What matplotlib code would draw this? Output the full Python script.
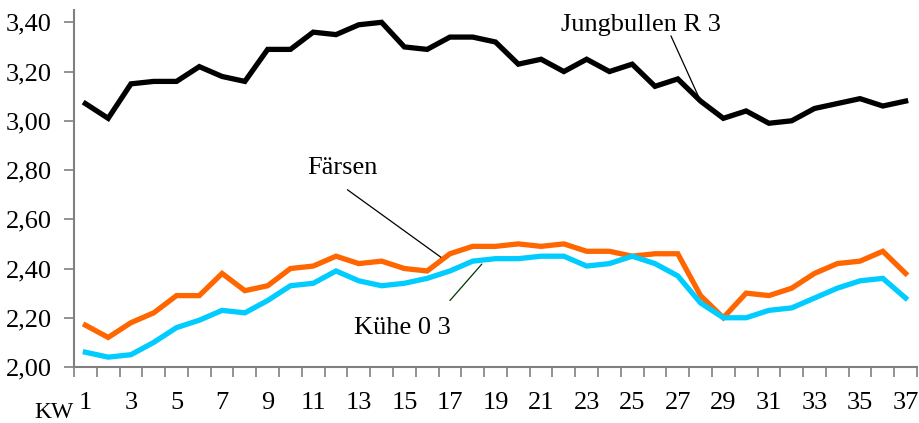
import matplotlib

matplotlib.use("Agg")
import matplotlib.pyplot as plt
import numpy as np

# Kalenderwochen 1..37
weeks = list(range(1, 38))
jungbullen_r3 = [3.07, 3.01, 3.15, 3.16, 3.16, 3.22, 3.18, 3.16, 3.29, 3.29,
                 3.36, 3.35, 3.39, 3.40, 3.30, 3.29, 3.34, 3.34, 3.32, 3.23,
                 3.25, 3.20, 3.25, 3.20, 3.23, 3.14, 3.17, 3.08, 3.01, 3.04,
                 2.99, 3.00, 3.05, 3.07, 3.09, 3.06, 3.08]
faersen = [2.17, 2.12, 2.18, 2.22, 2.29, 2.29, 2.38, 2.31, 2.33, 2.40,
           2.41, 2.45, 2.42, 2.43, 2.40, 2.39, 2.46, 2.49, 2.49, 2.50,
           2.49, 2.50, 2.47, 2.47, 2.45, 2.46, 2.46, 2.29, 2.20, 2.30,
           2.29, 2.32, 2.38, 2.42, 2.43, 2.47, 2.38]
kuehe_o3 = [2.06, 2.04, 2.05, 2.10, 2.16, 2.19, 2.23, 2.22, 2.27, 2.33,
            2.34, 2.39, 2.35, 2.33, 2.34, 2.36, 2.39, 2.43, 2.44, 2.44,
            2.45, 2.45, 2.41, 2.42, 2.45, 2.42, 2.37, 2.26, 2.20, 2.20,
            2.23, 2.24, 2.28, 2.32, 2.35, 2.36, 2.28]
y_ticks = [2.00, 2.20, 2.40, 2.60, 2.80, 3.00, 3.20, 3.40]

plt.rcParams["font.family"] = ["Liberation Serif", "DejaVu Serif"]
AXIS_GREY = "#808080"
FS = 19

fig = plt.figure(figsize=(9.19, 4.23), dpi=100)
ax = fig.add_axes([74 / 919, 56 / 423, 843 / 919, 357 / 423])

ax.plot(weeks, jungbullen_r3, color="black", linewidth=3.8, solid_joinstyle="miter")
ax.plot(weeks, faersen, color="#ff6600", linewidth=3.8, solid_joinstyle="miter")
ax.plot(weeks, kuehe_o3, color="#00ccff", linewidth=3.8, solid_joinstyle="miter")

ax.set_xlim(0.5, 37.4)
ax.set_ylim(2.0, 3.45)
ax.set_yticks(y_ticks)
ax.set_yticklabels([f"{v:.2f}".replace(".", ",") for v in y_ticks], fontsize=FS)
ax.set_xticks(weeks)
ax.set_xticklabels([str(w) if w % 2 else "" for w in weeks], fontsize=FS)
ax.set_xticks(np.arange(0.5, 37.6, 1.0), minor=True)
ax.tick_params(axis="x", which="major", length=0, pad=18)
ax.tick_params(axis="x", which="minor", length=7, width=1.2, color=AXIS_GREY, direction="out")
ax.tick_params(axis="y", length=7, width=1.2, color=AXIS_GREY, pad=9)
for spine in ("top", "right"):
    ax.spines[spine].set_visible(False)
for spine in ("left", "bottom"):
    ax.spines[spine].set_color(AXIS_GREY)
    ax.spines[spine].set_linewidth(1.5)

# Beschriftungen mit Hinweislinien
ax.text(25.4, 3.39, "Jungbullen R 3", fontsize=FS, ha="center", va="center")
ax.annotate("", xy=(28.0, 3.08), xytext=(26.7, 3.345),
            arrowprops=dict(arrowstyle="-", color="black", linewidth=0.9, shrinkA=0, shrinkB=0))
ax.text(12.3, 2.81, "Färsen", fontsize=FS, ha="center", va="center")
ax.annotate("", xy=(16.6, 2.446), xytext=(12.5, 2.72),
            arrowprops=dict(arrowstyle="-", color="black", linewidth=0.9, shrinkA=0, shrinkB=0))
ax.text(14.9, 2.158, "Kühe 0 3", fontsize=FS, ha="center", va="center")
ax.annotate("", xy=(18.4, 2.418), xytext=(17.0, 2.27),
            arrowprops=dict(arrowstyle="-", color="#003300", linewidth=0.9, shrinkA=0, shrinkB=0))
fig.text(54 / 919, 1 - 412 / 423, "KW", fontsize=17, ha="center", va="center")

fig.savefig("out.png", dpi=100)
